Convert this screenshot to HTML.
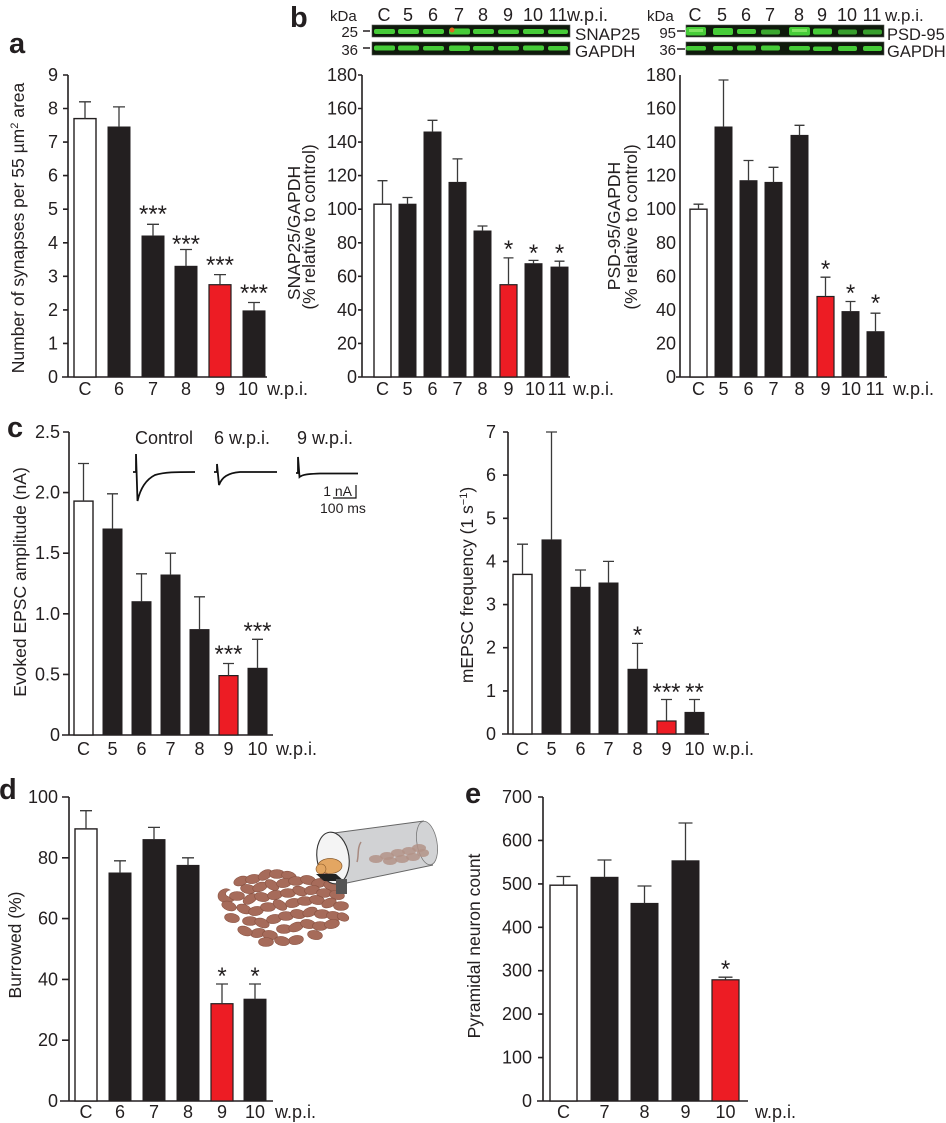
<!DOCTYPE html>
<html>
<head>
<meta charset="utf-8">
<style>
html,body{margin:0;padding:0;background:#fff;}
svg{display:block;}
text{font-family:"Liberation Sans",Arial,sans-serif;fill:#231f20;}
.t{font-size:18px;}
.tk{font-size:18px;text-anchor:end;}
.xl{font-size:18px;text-anchor:middle;}
.ttl{font-size:17.5px;text-anchor:middle;}
.st{font-size:24px;text-anchor:middle;}
.pl{font-size:29px;font-weight:bold;}
.ax{stroke:#231f20;stroke-width:1.6;fill:none;}
.eb{stroke:#3a3a3a;stroke-width:1.3;fill:none;}
.bk{fill:#231f20;stroke:#231f20;stroke-width:1;}
.wh{fill:#fff;stroke:#231f20;stroke-width:1.4;}
.rd{fill:#ed1c24;stroke:#231f20;stroke-width:1.2;}
.band{fill:#46cc38;}
.bandc{fill:#7fe462;}
.pel{fill:#a66b5a;stroke:#8a5343;stroke-width:0.6;}
.pin{fill:#b39387;opacity:0.85;}
</style>
</head>
<body>
<svg width="946" height="1123" viewBox="0 0 946 1123" xmlns="http://www.w3.org/2000/svg">

<!-- ================= Panel a ================= -->
<text class="pl" x="9" y="53">a</text>
<text class="ttl" transform="translate(24,228) rotate(-90)">Number of synapses per 55 µm<tspan dy="-6" font-size="11">2</tspan><tspan dy="6"> area</tspan></text>
<g class="tk">
<text x="58" y="383">0</text><text x="58" y="349.4">1</text><text x="58" y="315.9">2</text><text x="58" y="282.3">3</text><text x="58" y="248.8">4</text><text x="58" y="215.2">5</text><text x="58" y="181.6">6</text><text x="58" y="148.1">7</text><text x="58" y="114.5">8</text><text x="58" y="81">9</text>
</g>
<path class="ax" d="M68,75 V377 M62,377 H267 M63,343.4H68 M63,309.9H68 M63,276.3H68 M63,242.8H68 M63,209.2H68 M63,175.6H68 M63,142.1H68 M63,108.5H68 M63,75H68"/>
<rect class="wh" x="74" y="118.6" width="22" height="258.4"/>
<rect class="bk" x="108" y="127" width="22" height="250"/>
<rect class="bk" x="142" y="236" width="22" height="141"/>
<rect class="bk" x="175" y="266.3" width="22" height="110.7"/>
<rect class="rd" x="209" y="284.7" width="22" height="92.3"/>
<rect class="bk" x="243" y="310.9" width="22" height="66.1"/>
<path class="eb" d="M85,118.6V101.8 M79,101.8H91 M119,127V106.9 M113,106.9H125 M153,236V224.3 M147,224.3H159 M186,266.3V249.5 M180,249.5H192 M220,284.7V274.6 M214,274.6H226 M254,310.9V302.5 M248,302.5H260"/>
<g class="st"><text x="153" y="222">***</text><text x="186" y="252">***</text><text x="220" y="273">***</text><text x="254" y="301">***</text></g>
<g class="xl"><text x="85" y="395">C</text><text x="119" y="395">6</text><text x="153" y="395">7</text><text x="186" y="395">8</text><text x="220" y="395">9</text><text x="248" y="395">10</text></g>
<text class="t" x="267" y="395">w.p.i.</text>

<!-- ================= Panel b (SNAP25) ================= -->
<text class="pl" x="290" y="27">b</text>
<text x="330" y="21" font-size="15">kDa</text>
<text x="358" y="37" font-size="15" text-anchor="end">25</text>
<text x="358" y="55" font-size="15" text-anchor="end">36</text>
<path class="ax" d="M363,31H370 M363,48H370" stroke-width="1.2"/>
<g class="xl"><text x="384" y="21">C</text><text x="408" y="21">5</text><text x="433" y="21">6</text><text x="459" y="21">7</text><text x="483" y="21">8</text><text x="508" y="21">9</text><text x="533" y="21">10</text><text x="558" y="21">11</text></g>
<text class="t" x="567" y="21">w.p.i.</text>
<rect x="372" y="25" width="198" height="12" fill="#0f1a0c" stroke="#555" stroke-width="0.6"/>
<rect x="372" y="42" width="198" height="13" fill="#0f1a0c" stroke="#555" stroke-width="0.6"/>
<g>
<rect class="band" x="374" y="29" width="21" height="5" rx="2"/><rect class="band" x="398" y="29" width="21" height="5" rx="2"/><rect class="band" x="423" y="29" width="21" height="5" rx="2"/><rect class="band" x="449" y="28.5" width="21" height="6" rx="2"/><rect class="band" x="473" y="29" width="21" height="5" rx="2"/><rect class="band" x="498" y="29.5" width="21" height="4.5" rx="2"/><rect class="band" x="523" y="29" width="21" height="5" rx="2"/><rect class="band" x="548" y="29.5" width="20" height="4.5" rx="2"/>
<circle cx="452" cy="30" r="2.5" fill="#e0661f"/>
<rect class="band" x="374" y="45.5" width="21" height="5" rx="2"/><rect class="band" x="398" y="45.5" width="21" height="5" rx="2"/><rect class="band" x="423" y="46" width="21" height="4.5" rx="2"/><rect class="band" x="449" y="45.5" width="21" height="5.5" rx="2"/><rect class="band" x="473" y="46" width="21" height="4.5" rx="2"/><rect class="band" x="498" y="46" width="21" height="4.5" rx="2"/><rect class="band" x="523" y="45.5" width="21" height="5" rx="2"/><rect class="band" x="548" y="46" width="20" height="4.5" rx="2"/>
</g>
<text x="575" y="40" font-size="17">SNAP25</text>
<text x="575" y="57" font-size="17">GAPDH</text>

<text class="ttl" transform="translate(300,233) rotate(-90)">SNAP25/GAPDH</text>
<text class="ttl" transform="translate(315,227) rotate(-90)">(% relative to control)</text>
<g class="tk">
<text x="357" y="383">0</text><text x="357" y="349.4">20</text><text x="357" y="315.9">40</text><text x="357" y="282.3">60</text><text x="357" y="248.8">80</text><text x="357" y="215.2">100</text><text x="357" y="181.6">120</text><text x="357" y="148.1">140</text><text x="357" y="114.5">160</text><text x="357" y="81">180</text>
</g>
<path class="ax" d="M362,75 V377 M358,377 H570 M358,343.4H362 M358,309.9H362 M358,276.3H362 M358,242.8H362 M358,209.2H362 M358,175.6H362 M358,142.1H362 M358,108.5H362 M358,75H362"/>
<rect class="wh" x="374" y="204.2" width="17" height="172.8"/>
<rect class="bk" x="399" y="204.2" width="17" height="172.8"/>
<rect class="bk" x="424" y="132" width="17" height="245"/>
<rect class="bk" x="449" y="182.4" width="17" height="194.6"/>
<rect class="bk" x="474" y="231" width="17" height="146"/>
<rect class="rd" x="500" y="284.7" width="17" height="92.3"/>
<rect class="bk" x="525" y="263.7" width="17" height="113.3"/>
<rect class="bk" x="551" y="267.1" width="17" height="109.9"/>
<path class="eb" d="M382.5,204.2V180.7 M377.5,180.7H387.5 M407.5,204.2V197.5 M402.5,197.5H412.5 M432.5,132V120.3 M427.5,120.3H437.5 M457.5,182.4V158.9 M452.5,158.9H462.5 M482.5,231V226 M477.5,226H487.5 M508.5,284.7V257.9 M503.5,257.9H513.5 M533.5,263.7V260.4 M528.5,260.4H538.5 M559.5,267.1V261.2 M554.5,261.2H564.5"/>
<g class="st"><text x="508.5" y="257">*</text><text x="533.5" y="261">*</text><text x="559.5" y="261">*</text></g>
<g class="xl"><text x="382.5" y="395">C</text><text x="407.5" y="395">5</text><text x="432.5" y="395">6</text><text x="457.5" y="395">7</text><text x="482.5" y="395">8</text><text x="508.5" y="395">9</text><text x="535" y="395">10</text><text x="557" y="395">11</text></g>
<text class="t" x="573" y="395">w.p.i.</text>

<!-- ================= Panel b (PSD-95) ================= -->
<text x="647" y="21" font-size="15">kDa</text>
<text x="676" y="38" font-size="15" text-anchor="end">95</text>
<text x="676" y="55" font-size="15" text-anchor="end">36</text>
<path class="ax" d="M677,31H685 M677,49H685" stroke-width="1.2"/>
<g class="xl"><text x="695" y="21">C</text><text x="722" y="21">5</text><text x="746" y="21">6</text><text x="770" y="21">7</text><text x="799" y="21">8</text><text x="822" y="21">9</text><text x="847" y="21">10</text><text x="872" y="21">11</text></g>
<text x="885" y="21" font-size="17">w.p.i.</text>
<rect x="686" y="25" width="198" height="12" fill="#0f1a0c" stroke="#555" stroke-width="0.6"/>
<rect x="686" y="42" width="198" height="13" fill="#0f1a0c" stroke="#555" stroke-width="0.6"/>
<g>
<rect class="band" x="686" y="27" width="20" height="8.5" rx="2"/><rect class="band" x="713" y="28" width="20" height="7" rx="2"/><rect class="band" x="737" y="29" width="19" height="5" rx="2"/><rect class="band" x="761" y="29.5" width="19" height="5" rx="2" opacity="0.8"/><rect class="band" x="789" y="27" width="21" height="8.5" rx="2"/><rect class="band" x="813" y="28.5" width="19" height="6" rx="2"/><rect class="band" x="838" y="29.5" width="19" height="5" rx="2" opacity="0.75"/><rect class="band" x="863" y="29.5" width="19" height="5" rx="2" opacity="0.75"/>
<rect class="bandc" x="689" y="29" width="14" height="3"/><rect class="bandc" x="792" y="29" width="15" height="3"/>
<rect class="band" x="686" y="46" width="20" height="4.5" rx="2"/><rect class="band" x="713" y="46" width="20" height="4.5" rx="2"/><rect class="band" x="737" y="45.5" width="19" height="5" rx="2"/><rect class="band" x="761" y="45.5" width="19" height="5" rx="2"/><rect class="band" x="789" y="46" width="21" height="4.5" rx="2"/><rect class="band" x="813" y="46.5" width="19" height="4.5" rx="2"/><rect class="band" x="838" y="46" width="19" height="5" rx="2"/><rect class="band" x="863" y="46" width="19" height="5" rx="2"/>
</g>
<text x="887" y="40" font-size="16.5">PSD-95</text>
<text x="887" y="57" font-size="16.5">GAPDH</text>

<text class="ttl" transform="translate(620,226) rotate(-90)">PSD-95/GAPDH</text>
<text class="ttl" transform="translate(637,227) rotate(-90)">(% relative to control)</text>
<g class="tk">
<text x="676" y="383">0</text><text x="676" y="349.4">20</text><text x="676" y="315.9">40</text><text x="676" y="282.3">60</text><text x="676" y="248.8">80</text><text x="676" y="215.2">100</text><text x="676" y="181.6">120</text><text x="676" y="148.1">140</text><text x="676" y="114.5">160</text><text x="676" y="81">180</text>
</g>
<path class="ax" d="M680,75 V377 M676,377 H887"/>
<rect class="wh" x="690" y="209.2" width="17" height="167.8"/>
<rect class="bk" x="715" y="127" width="17" height="250"/>
<rect class="bk" x="740" y="180.7" width="17" height="196.3"/>
<rect class="bk" x="765" y="182.4" width="17" height="194.6"/>
<rect class="bk" x="791" y="135.4" width="17" height="241.6"/>
<rect class="rd" x="817" y="296.5" width="17" height="80.5"/>
<rect class="bk" x="842" y="311.6" width="17" height="65.4"/>
<rect class="bk" x="867" y="331.7" width="17" height="45.3"/>
<path class="eb" d="M698.5,209.2V204.2 M693.5,204.2H703.5 M723.5,127V80 M718.5,80H728.5 M748.5,180.7V160.5 M743.5,160.5H753.5 M773.5,182.4V167.3 M768.5,167.3H778.5 M799.5,135.4V125.3 M794.5,125.3H804.5 M825.5,296.5V277.2 M820.5,277.2H830.5 M850.5,311.6V301.5 M845.5,301.5H855.5 M875.5,331.7V313.2 M870.5,313.2H880.5"/>
<g class="st"><text x="825.5" y="277">*</text><text x="850.5" y="301">*</text><text x="875.5" y="311">*</text></g>
<g class="xl"><text x="698.5" y="395">C</text><text x="723.5" y="395">5</text><text x="748.5" y="395">6</text><text x="773.5" y="395">7</text><text x="799.5" y="395">8</text><text x="825.5" y="395">9</text><text x="851" y="395">10</text><text x="875" y="395">11</text></g>
<text class="t" x="893" y="395">w.p.i.</text>

<!-- ================= Panel c (left) ================= -->
<text class="pl" x="7" y="437">c</text>
<text class="ttl" transform="translate(26,582) rotate(-90)">Evoked EPSC amplitude (nA)</text>
<g class="tk">
<text x="60" y="741">0</text><text x="60" y="680.4">0.5</text><text x="60" y="619.8">1.0</text><text x="60" y="559.2">1.5</text><text x="60" y="498.6">2.0</text><text x="60" y="438">2.5</text>
</g>
<path class="ax" d="M69,432 V735 M62,735 H273 M63,674.4H69 M63,613.8H69 M63,553.2H69 M63,492.6H69 M63,432H69"/>
<rect class="wh" x="74" y="501.1" width="19" height="233.9"/>
<rect class="bk" x="103" y="529" width="19" height="206"/>
<rect class="bk" x="132" y="601.7" width="19" height="133.3"/>
<rect class="bk" x="161" y="575" width="19" height="160"/>
<rect class="bk" x="190" y="629.6" width="19" height="105.4"/>
<rect class="rd" x="219" y="675.6" width="19" height="59.4"/>
<rect class="bk" x="248" y="668.3" width="19" height="66.7"/>
<path class="eb" d="M83.5,501.1V463.5 M78,463.5H89 M112.5,529V493.8 M107,493.8H118 M141.5,601.7V573.8 M136,573.8H147 M170.5,575V553.2 M165,553.2H176 M199.5,629.6V596.8 M194,596.8H205 M228.5,675.6V663.5 M223,663.5H234 M257.5,668.3V639.3 M252,639.3H263"/>
<g class="st"><text x="228.5" y="662">***</text><text x="257.5" y="639">***</text></g>
<g class="xl"><text x="83.5" y="755">C</text><text x="112.5" y="755">5</text><text x="141.5" y="755">6</text><text x="170.5" y="755">7</text><text x="199.5" y="755">8</text><text x="228.5" y="755">9</text><text x="257.5" y="755">10</text></g>
<text class="t" x="276" y="755">w.p.i.</text>

<!-- inset traces -->
<text class="t" x="135" y="444">Control</text>
<text class="t" x="214" y="444">6 w.p.i.</text>
<text class="t" x="297" y="444">9 w.p.i.</text>
<path d="M133,472 H136 V454 L137.5,501 C140,490 145,480 155,475 C165,472 175,472 195,472" stroke="#111" stroke-width="1.8" fill="none"/>
<path d="M214,472 H217 V464 L219,485 C222,477 228,473 240,472 H277" stroke="#111" stroke-width="1.8" fill="none"/>
<path d="M296,473 H298 V457 L299.5,477 C303,474 310,474 320,473.5 H358" stroke="#111" stroke-width="1.8" fill="none"/>
<path d="M356,485 V498 H333" stroke="#111" stroke-width="1.2" fill="none"/>
<text x="352" y="496" font-size="14" text-anchor="end">1 nA</text>
<text x="320" y="513" font-size="14">100 ms</text>

<!-- ================= Panel c (right) ================= -->
<text class="ttl" transform="translate(473,585) rotate(-90)">mEPSC frequency (1 s<tspan dy="-6" font-size="11">−1</tspan><tspan dy="6">)</tspan></text>
<g class="tk">
<text x="496" y="740">0</text><text x="496" y="696.9">1</text><text x="496" y="653.7">2</text><text x="496" y="610.6">3</text><text x="496" y="567.4">4</text><text x="496" y="524.3">5</text><text x="496" y="481.1">6</text><text x="496" y="438">7</text>
</g>
<path class="ax" d="M508,432 V734 M502,734 H709 M503,690.9H508 M503,647.7H508 M503,604.6H508 M503,561.4H508 M503,518.3H508 M503,475.1H508 M503,432H508"/>
<rect class="wh" x="513" y="574.4" width="19" height="159.6"/>
<rect class="bk" x="542" y="539.9" width="19" height="194.1"/>
<rect class="bk" x="571" y="587.3" width="19" height="146.7"/>
<rect class="bk" x="599" y="583" width="19" height="151"/>
<rect class="bk" x="628" y="669.3" width="19" height="64.7"/>
<rect class="rd" x="657" y="721" width="19" height="13"/>
<rect class="bk" x="685" y="712.4" width="19" height="21.6"/>
<path class="eb" d="M522.5,574.4V544.2 M517,544.2H528 M551.5,539.9V432 M546,432H557 M580.5,587.3V570 M575,570H586 M608.5,583V561.4 M603,561.4H614 M637.5,669.3V643.4 M632,643.4H643 M666.5,721V699.5 M661,699.5H672 M694.5,712.4V699.5 M689,699.5H700"/>
<g class="st"><text x="637.5" y="643">*</text><text x="666.5" y="700">***</text><text x="694.5" y="700">**</text></g>
<g class="xl"><text x="522.5" y="755">C</text><text x="551.5" y="755">5</text><text x="580.5" y="755">6</text><text x="608.5" y="755">7</text><text x="637.5" y="755">8</text><text x="666.5" y="755">9</text><text x="694.5" y="755">10</text></g>
<text class="t" x="713" y="755">w.p.i.</text>

<!-- ================= Panel d ================= -->
<text class="pl" x="-1" y="799">d</text>
<text class="ttl" transform="translate(21,945) rotate(-90)">Burrowed (%)</text>
<g class="tk">
<text x="58" y="1107">0</text><text x="58" y="1046.2">20</text><text x="58" y="985.4">40</text><text x="58" y="924.6">60</text><text x="58" y="863.8">80</text><text x="58" y="803">100</text>
</g>
<path class="ax" d="M69,797 V1101 M60,1101 H273 M62,1040.2H69 M62,979.4H69 M62,918.6H69 M62,857.8H69 M62,797H69"/>
<rect class="wh" x="75" y="828.9" width="22" height="272.1"/>
<rect class="bk" x="109" y="873" width="22" height="228"/>
<rect class="bk" x="143" y="839.6" width="22" height="261.4"/>
<rect class="bk" x="177" y="865.4" width="22" height="235.6"/>
<rect class="rd" x="211" y="1003.7" width="22" height="97.3"/>
<rect class="bk" x="244" y="999.2" width="22" height="101.8"/>
<path class="eb" d="M86,828.9V810.7 M80,810.7H92 M120,873V860.8 M114,860.8H126 M154,839.6V827.4 M148,827.4H160 M188,865.4V857.8 M182,857.8H194 M222,1003.7V984 M216,984H228 M255,999.2V984 M249,984H261"/>
<g class="st"><text x="222" y="984">*</text><text x="255" y="984">*</text></g>
<g class="xl"><text x="86" y="1118">C</text><text x="120" y="1118">6</text><text x="154" y="1118">7</text><text x="188" y="1118">8</text><text x="222" y="1118">9</text><text x="255" y="1118">10</text></g>
<text class="t" x="275" y="1118">w.p.i.</text>

<!-- burrowing illustration -->
<g>
<path class="pel" d="M218,896 c0,-6 8,-9 12,-6 c-4,1 -6,4 -3,6 c3,2 6,1 7,4 c-3,4 -16,4 -16,-4 z"/>
<ellipse class="pel" cx="229" cy="906" rx="7.5" ry="4.5" transform="rotate(20 229 906)"/>
<ellipse class="pel" cx="241" cy="881" rx="7.5" ry="4.5" transform="rotate(-20 241 881)"/>
<ellipse class="pel" cx="253" cy="879" rx="7.5" ry="4.5" transform="rotate(-10 253 879)"/>
<ellipse class="pel" cx="265" cy="875" rx="7.5" ry="4.5" transform="rotate(-30 265 875)"/>
<ellipse class="pel" cx="277" cy="874" rx="7.5" ry="4.5"/>
<ellipse class="pel" cx="289" cy="876" rx="7.5" ry="4.5" transform="rotate(15 289 876)"/>
<ellipse class="pel" cx="248" cy="889" rx="7.5" ry="4.5" transform="rotate(10 248 889)"/>
<ellipse class="pel" cx="260" cy="887" rx="7.5" ry="4.5" transform="rotate(-20 260 887)"/>
<ellipse class="pel" cx="272" cy="885" rx="7.5" ry="4.5" transform="rotate(30 272 885)"/>
<ellipse class="pel" cx="284" cy="883" rx="7.5" ry="4.5" transform="rotate(-10 284 883)"/>
<ellipse class="pel" cx="296" cy="881" rx="7.5" ry="4.5"/>
<ellipse class="pel" cx="308" cy="880" rx="7.5" ry="4.5" transform="rotate(10 308 880)"/>
<ellipse class="pel" cx="319" cy="883" rx="7.5" ry="4.5" transform="rotate(-10 319 883)"/>
<ellipse class="pel" cx="331" cy="886" rx="7.5" ry="4.5" transform="rotate(20 331 886)"/>
<ellipse class="pel" cx="237" cy="896" rx="7.5" ry="4.5"/>
<ellipse class="pel" cx="250" cy="899" rx="7.5" ry="4.5" transform="rotate(-30 250 899)"/>
<ellipse class="pel" cx="262" cy="897" rx="7.5" ry="4.5" transform="rotate(10 262 897)"/>
<ellipse class="pel" cx="275" cy="895" rx="7.5" ry="4.5" transform="rotate(-10 275 895)"/>
<ellipse class="pel" cx="288" cy="893" rx="7.5" ry="4.5"/>
<ellipse class="pel" cx="300" cy="891" rx="7.5" ry="4.5" transform="rotate(20 300 891)"/>
<ellipse class="pel" cx="312" cy="890" rx="7.5" ry="4.5" transform="rotate(-10 312 890)"/>
<ellipse class="pel" cx="324" cy="893" rx="7.5" ry="4.5"/>
<ellipse class="pel" cx="337" cy="895" rx="7.5" ry="4.5" transform="rotate(10 337 895)"/>
<ellipse class="pel" cx="244" cy="909" rx="7.5" ry="4.5" transform="rotate(20 244 909)"/>
<ellipse class="pel" cx="256" cy="911" rx="7.5" ry="4.5" transform="rotate(-10 256 911)"/>
<ellipse class="pel" cx="268" cy="907" rx="7.5" ry="4.5"/>
<ellipse class="pel" cx="280" cy="905" rx="7.5" ry="4.5" transform="rotate(30 280 905)"/>
<ellipse class="pel" cx="293" cy="903" rx="7.5" ry="4.5" transform="rotate(-10 293 903)"/>
<ellipse class="pel" cx="305" cy="901" rx="7.5" ry="4.5"/>
<ellipse class="pel" cx="317" cy="900" rx="7.5" ry="4.5" transform="rotate(10 317 900)"/>
<ellipse class="pel" cx="329" cy="903" rx="7.5" ry="4.5" transform="rotate(-20 329 903)"/>
<ellipse class="pel" cx="341" cy="906" rx="7.5" ry="4.5"/>
<ellipse class="pel" cx="250" cy="921" rx="7.5" ry="4.5"/>
<ellipse class="pel" cx="262" cy="923" rx="7.5" ry="4.5" transform="rotate(20 262 923)"/>
<ellipse class="pel" cx="274" cy="919" rx="7.5" ry="4.5" transform="rotate(-10 274 919)"/>
<ellipse class="pel" cx="286" cy="916" rx="7.5" ry="4.5"/>
<ellipse class="pel" cx="298" cy="914" rx="7.5" ry="4.5" transform="rotate(10 298 914)"/>
<ellipse class="pel" cx="310" cy="912" rx="7.5" ry="4.5" transform="rotate(-20 310 912)"/>
<ellipse class="pel" cx="322" cy="914" rx="7.5" ry="4.5"/>
<ellipse class="pel" cx="334" cy="916" rx="7.5" ry="4.5" transform="rotate(10 334 916)"/>
<ellipse class="pel" cx="258" cy="933" rx="7.5" ry="4.5" transform="rotate(-10 258 933)"/>
<ellipse class="pel" cx="270" cy="935" rx="7.5" ry="4.5" transform="rotate(10 270 935)"/>
<ellipse class="pel" cx="284" cy="929" rx="7.5" ry="4.5"/>
<ellipse class="pel" cx="296" cy="927" rx="7.5" ry="4.5" transform="rotate(-20 296 927)"/>
<ellipse class="pel" cx="308" cy="924" rx="7.5" ry="4.5" transform="rotate(10 308 924)"/>
<ellipse class="pel" cx="320" cy="926" rx="7.5" ry="4.5"/>
<ellipse class="pel" cx="332" cy="924" rx="7.5" ry="4.5" transform="rotate(-10 332 924)"/>
<ellipse class="pel" cx="266" cy="942" rx="7.5" ry="4.5"/>
<ellipse class="pel" cx="296" cy="940" rx="7.5" ry="4.5" transform="rotate(-10 296 940)"/>
<ellipse class="pel" cx="315" cy="935" rx="7.5" ry="4.5" transform="rotate(10 315 935)"/>
<ellipse class="pel" cx="245" cy="931" rx="7.5" ry="4.5" transform="rotate(20 245 931)"/>
<ellipse class="pel" cx="232" cy="918" rx="7.5" ry="4.5" transform="rotate(10 232 918)"/>
<ellipse class="pel" cx="282" cy="941" rx="7.5" ry="4.5" transform="rotate(10 282 941)"/>
<ellipse class="pel" cx="343" cy="917" rx="6" ry="4" transform="rotate(20 343 917)"/>
</g>
<g>
<path d="M334,833 L424,821 L433,865 L342,884 Z" fill="#c9cacc" opacity="0.85"/>
<path d="M334,833 L424,821 M342,884 L433,865" stroke="#666" stroke-width="1" fill="none"/>
<ellipse cx="427" cy="843" rx="10" ry="22" transform="rotate(-10 427 843)" fill="#d2d3d5" stroke="#777" stroke-width="0.8"/>
<ellipse class="pin" cx="376" cy="859" rx="7" ry="4"/><ellipse class="pin" cx="387" cy="856" rx="7" ry="4"/><ellipse class="pin" cx="398" cy="853" rx="7" ry="4"/><ellipse class="pin" cx="409" cy="851" rx="7" ry="4"/><ellipse class="pin" cx="419" cy="848" rx="7" ry="4"/><ellipse class="pin" cx="402" cy="859" rx="7" ry="4"/><ellipse class="pin" cx="413" cy="857" rx="7" ry="4"/><ellipse class="pin" cx="423" cy="853" rx="6" ry="4"/><ellipse class="pin" cx="390" cy="861" rx="7" ry="4"/>
<path d="M361,842 C357,848 359,856 357,862" stroke="#a88a80" stroke-width="1.5" fill="none"/>
<ellipse cx="333" cy="858" rx="16" ry="26" transform="rotate(-8 333 858)" fill="#f4f4f4" stroke="#333" stroke-width="1.1"/>
<ellipse cx="330" cy="866" rx="12" ry="7.5" fill="#e3a662" stroke="#8a5a2a" stroke-width="0.7"/>
<circle cx="321" cy="869" r="5" fill="#e3a662" stroke="#8a5a2a" stroke-width="0.6"/>
<ellipse class="pel" cx="325" cy="877" rx="5" ry="3.5"/>
<path d="M316,874 L336,874 L344,881 L324,881 Z" fill="#222"/>
<rect x="336" y="879" width="11" height="15" fill="#555"/>
</g>

<!-- ================= Panel e ================= -->
<text class="pl" x="465" y="803">e</text>
<text class="ttl" transform="translate(480,946) rotate(-90)">Pyramidal neuron count</text>
<g class="tk">
<text x="532" y="1107">0</text><text x="532" y="1063.6">100</text><text x="532" y="1020.1">200</text><text x="532" y="976.7">300</text><text x="532" y="933.3">400</text><text x="532" y="889.9">500</text><text x="532" y="846.4">600</text><text x="532" y="803">700</text>
</g>
<path class="ax" d="M543,797 V1101 M537,1101 H748 M538,1057.6H543 M538,1014.1H543 M538,970.7H543 M538,927.3H543 M538,883.9H543 M538,840.4H543 M538,797H543"/>
<rect class="wh" x="550" y="885.2" width="27" height="215.8"/>
<rect class="bk" x="591" y="877.3" width="27" height="223.7"/>
<rect class="bk" x="631" y="903.4" width="27" height="197.6"/>
<rect class="bk" x="672" y="860.8" width="27" height="240.2"/>
<rect class="rd" x="712" y="979.8" width="27" height="121.2"/>
<path class="eb" d="M563.5,885.2V876.5 M556.5,876.5H570.5 M604.5,877.3V860 M597.5,860H611.5 M644.5,903.4V886 M637.5,886H651.5 M685.5,860.8V823 M678.5,823H692.5 M725.5,979.8V977.2 M718.5,977.2H732.5"/>
<g class="st"><text x="725.5" y="977">*</text></g>
<g class="xl"><text x="563.5" y="1118">C</text><text x="604.5" y="1118">7</text><text x="644.5" y="1118">8</text><text x="685.5" y="1118">9</text><text x="725.5" y="1118">10</text></g>
<text class="t" x="755" y="1118">w.p.i.</text>

</svg>
</body>
</html>
